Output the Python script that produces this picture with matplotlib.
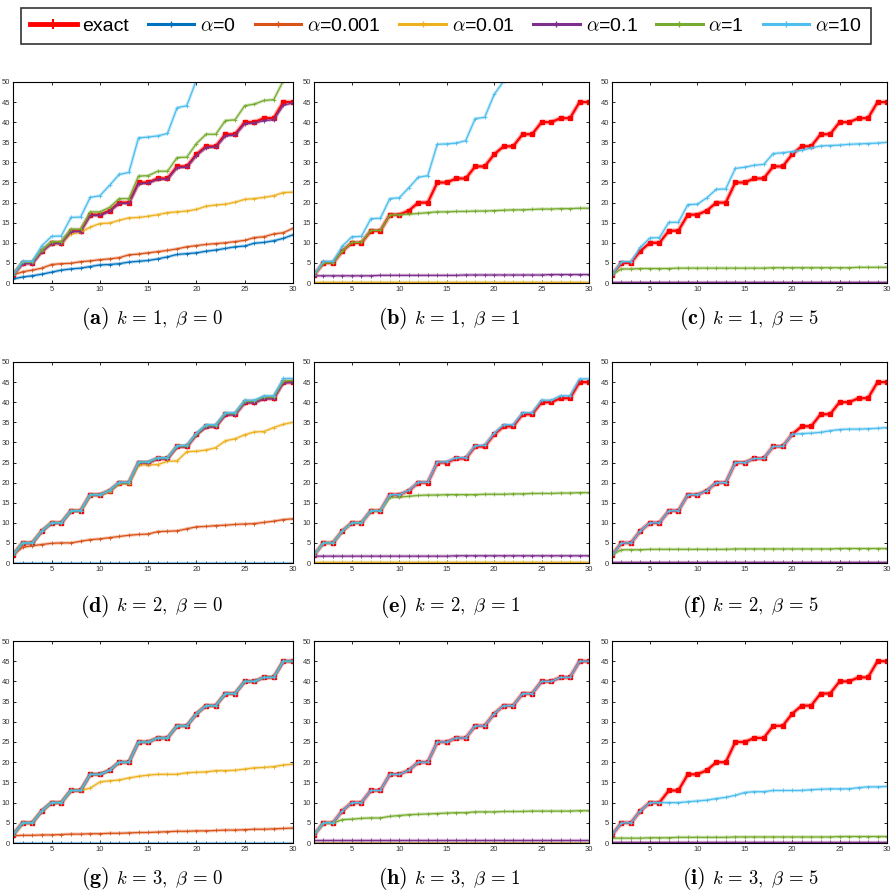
import numpy as np
import matplotlib
matplotlib.use("Agg")
import matplotlib.pyplot as plt
from matplotlib.lines import Line2D

plt.rcParams["font.family"] = ["Liberation Sans", "DejaVu Sans"]
plt.rcParams["mathtext.fontset"] = "cm"

x = list(range(1, 31))
exact = [2, 5, 5, 8, 10, 10, 13, 13, 17, 17, 18, 20, 20, 25, 25, 26, 26, 29, 29, 32,
         34, 34, 37, 37, 40, 40, 41, 41, 45, 45]
zeros = [0.0] * 30

labels = ["exact", r"$\alpha$=0", r"$\alpha$=0.001", r"$\alpha$=0.01", r"$\alpha$=0.1", r"$\alpha$=1", r"$\alpha$=10"]
colors = ["#ff0000", "#0072bd", "#d95319", "#edb120", "#7e2f8e", "#77ac30", "#4dbeee"]
tags = ["a", "b", "c", "d", "e", "f", "g", "h", "i"]
conds = [r"$k\,=\,1,\ \beta\,=\,0$", r"$k\,=\,1,\ \beta\,=\,1$", r"$k\,=\,1,\ \beta\,=\,5$",
         r"$k\,=\,2,\ \beta\,=\,0$", r"$k\,=\,2,\ \beta\,=\,1$", r"$k\,=\,2,\ \beta\,=\,5$",
         r"$k\,=\,3,\ \beta\,=\,0$", r"$k\,=\,3,\ \beta\,=\,1$", r"$k\,=\,3,\ \beta\,=\,5$"]

# (a) k=1, beta=0
a_p0 = [1.0, 1.5, 1.8, 2.2, 2.7, 3.2, 3.5, 3.7, 4.1, 4.5, 4.6, 4.8, 5.2, 5.4, 5.6, 6.0, 6.5, 7.1, 7.3, 7.5,
        7.9, 8.2, 8.6, 9.0, 9.2, 9.9, 10.1, 10.5, 11.1, 12.0]
a_p001 = [2.0, 2.8, 3.2, 3.7, 4.6, 4.8, 4.9, 5.3, 5.5, 5.8, 6.0, 6.3, 7.0, 7.2, 7.5, 7.8, 8.1, 8.5, 9.0, 9.3,
          9.6, 9.8, 10.0, 10.3, 10.6, 11.3, 11.5, 12.2, 12.5, 13.6]
a_p01 = [2.0, 5.0, 5.0, 8.0, 9.8, 9.8, 12.2, 12.6, 13.9, 14.8, 14.9, 15.6, 16.2, 16.3, 16.6, 17.0, 17.5, 17.7, 17.9, 18.3,
         19.1, 19.4, 19.6, 20.1, 20.8, 21.0, 21.3, 21.7, 22.5, 22.6]
a_p1 = [1.9, 4.8, 4.8, 7.8, 9.8, 9.8, 12.8, 12.8, 16.8, 16.8, 17.8, 19.8, 19.8, 24.7, 24.8, 25.8, 25.8, 28.7, 28.8, 31.7,
        33.7, 33.8, 36.6, 36.8, 39.6, 39.8, 40.4, 40.6, 44.2, 44.8]
a_1 = [2.0, 5.3, 5.3, 8.3, 10.3, 10.3, 13.4, 13.4, 17.7, 17.7, 18.8, 21.0, 21.0, 26.6, 26.7, 27.8, 27.8, 31.2, 31.3, 34.7,
       37.0, 37.0, 40.4, 40.6, 44.1, 44.5, 45.4, 45.6, 50.3, 52.0]
a_10 = [2.0, 5.4, 5.4, 9.3, 11.6, 11.7, 16.3, 16.4, 21.3, 21.7, 24.3, 27.0, 27.5, 36.1, 36.3, 36.6, 37.2, 43.6, 44.1, 50.5,
        54.0, 55.0, 60.0, 61.0, 66.0, 67.0, 69.0, 70.0, 76.0, 77.0]

# (b) k=1, beta=1
b_p0 = zeros
b_p001 = [0.1] * 30
b_p01 = [0.2] * 30
b_p1 = [1.8, 1.8, 1.8, 1.8, 1.8, 1.8, 1.8, 1.9, 1.9, 1.9, 1.9, 1.9, 1.9, 1.9, 1.9, 1.9, 2.0, 2.0, 2.0, 2.0,
        2.0, 2.0, 2.0, 2.0, 2.0, 2.1, 2.1, 2.1, 2.1, 2.1]
b_1 = [2.0, 5.0, 5.0, 8.0, 10.1, 10.1, 13.1, 13.1, 16.9, 17.0, 17.1, 17.3, 17.5, 17.7, 17.7, 17.8, 17.8, 17.9, 17.9, 18.0,
       18.1, 18.2, 18.2, 18.3, 18.4, 18.4, 18.5, 18.5, 18.6, 18.6]
b_10 = [2.0, 5.4, 5.4, 9.2, 11.5, 11.6, 16.0, 16.1, 21.0, 21.2, 23.7, 26.3, 26.7, 34.5, 34.6, 34.8, 35.4, 40.9, 41.2, 46.9,
        50.2, 51.0, 55.0, 56.0, 60.0, 61.0, 62.0, 63.0, 68.0, 69.0]

# (c) k=1, beta=5
c_p0 = zeros
c_p001 = [0.05] * 30
c_p01 = [0.1] * 30
c_p1 = [0.3] * 30
c_1 = [2.0, 3.5, 3.5, 3.6, 3.6, 3.6, 3.6, 3.7, 3.7, 3.7, 3.7, 3.7, 3.7, 3.7, 3.7, 3.7, 3.7, 3.8, 3.8, 3.8,
       3.8, 3.8, 3.8, 3.8, 3.8, 3.8, 3.9, 3.9, 3.9, 3.9]
c_10 = [2.0, 5.3, 5.3, 8.9, 11.2, 11.3, 15.1, 15.1, 19.5, 19.6, 21.2, 23.3, 23.4, 28.5, 28.8, 29.3, 29.5, 32.2, 32.4, 32.7,
        33.0, 33.6, 34.1, 34.2, 34.3, 34.5, 34.6, 34.7, 34.8, 35.0]

# (d) k=2, beta=0
d_p0 = zeros
d_p001 = [2.0, 3.9, 4.3, 4.6, 4.9, 5.0, 5.0, 5.4, 5.8, 6.0, 6.3, 6.6, 6.9, 7.1, 7.2, 7.8, 7.9, 8.0, 8.5, 9.0,
          9.1, 9.3, 9.4, 9.6, 9.7, 9.8, 10.1, 10.4, 10.8, 11.0]
d_p01 = [2.0, 5.0, 5.0, 8.0, 10.0, 10.0, 13.0, 12.9, 16.8, 16.8, 17.7, 19.7, 19.7, 24.4, 24.4, 24.5, 25.3, 25.4, 27.7, 27.8,
         28.1, 28.7, 30.4, 30.9, 31.9, 32.6, 32.7, 33.7, 34.5, 35.0]
d_p1 = [2.0, 4.9, 4.9, 7.9, 9.9, 9.9, 12.9, 12.9, 16.9, 16.9, 17.9, 19.9, 19.9, 24.9, 24.9, 25.9, 25.9, 28.9, 28.9, 31.9,
        33.8, 33.9, 36.8, 36.9, 39.8, 39.9, 40.8, 40.9, 44.8, 44.9]
d_1 = [2.0, 5.0, 5.0, 8.0, 10.0, 10.0, 13.0, 13.0, 17.0, 17.0, 18.0, 20.0, 20.0, 25.1, 25.1, 26.1, 26.1, 29.1, 29.1, 32.1,
       34.2, 34.2, 37.2, 37.2, 40.2, 40.3, 41.3, 41.3, 45.3, 45.4]
d_10 = [2.0, 5.0, 5.0, 8.0, 10.0, 10.0, 13.0, 13.0, 17.0, 17.0, 18.1, 20.1, 20.1, 25.1, 25.2, 26.2, 26.2, 29.2, 29.3, 32.3,
        34.4, 34.4, 37.4, 37.4, 40.5, 40.5, 41.6, 41.6, 45.9, 45.9]

# (e) k=2, beta=1
e_p0 = zeros
e_p001 = [0.1] * 30
e_p01 = [0.15] * 30
e_p1 = [1.7, 1.7, 1.7, 1.7, 1.7, 1.7, 1.7, 1.7, 1.7, 1.7, 1.7, 1.7, 1.7, 1.7, 1.7, 1.8, 1.8, 1.8, 1.8, 1.8,
        1.8, 1.8, 1.8, 1.8, 1.8, 1.8, 1.8, 1.8, 1.8, 1.8]
e_1 = [2.0, 5.0, 5.0, 8.0, 10.0, 10.0, 13.0, 13.0, 16.3, 16.4, 16.6, 16.8, 16.9, 16.9, 17.0, 17.0, 17.0, 17.0, 17.1, 17.1,
       17.1, 17.2, 17.2, 17.3, 17.3, 17.3, 17.4, 17.4, 17.5, 17.5]
e_10 = [2.0, 5.0, 5.0, 8.0, 10.0, 10.0, 13.0, 13.0, 17.0, 17.0, 18.1, 20.1, 20.1, 25.1, 25.2, 26.2, 26.2, 29.2, 29.3, 32.3,
        34.4, 34.4, 37.4, 37.4, 40.5, 40.5, 41.6, 41.6, 45.8, 45.8]

# (f) k=2, beta=5
f_p0 = zeros
f_p001 = [0.05] * 30
f_p01 = [0.1] * 30
f_p1 = [0.3] * 30
f_1 = [2.0, 3.3, 3.3, 3.3, 3.4, 3.4, 3.4, 3.4, 3.4, 3.4, 3.4, 3.4, 3.4, 3.5, 3.5, 3.5, 3.5, 3.5, 3.5, 3.5,
       3.5, 3.5, 3.5, 3.5, 3.6, 3.6, 3.6, 3.6, 3.6, 3.6]
f_10 = [2.0, 5.0, 5.0, 8.0, 10.0, 10.0, 13.0, 13.0, 17.0, 17.0, 18.0, 20.0, 20.0, 25.0, 25.0, 26.0, 26.0, 29.0, 29.0, 32.0,
        32.2, 32.3, 32.5, 32.9, 33.2, 33.3, 33.3, 33.4, 33.5, 33.7]

# (g) k=3, beta=0
g_p0 = zeros
g_p001 = [1.8, 1.9, 1.9, 2.0, 2.0, 2.1, 2.2, 2.2, 2.3, 2.3, 2.4, 2.4, 2.5, 2.6, 2.6, 2.7, 2.8, 2.9, 2.9, 3.0,
          3.0, 3.1, 3.2, 3.2, 3.3, 3.4, 3.4, 3.5, 3.6, 3.7]
g_p01 = [2.0, 5.0, 5.0, 8.0, 10.0, 10.0, 13.0, 13.0, 13.6, 15.1, 15.4, 15.6, 16.1, 16.5, 16.8, 17.0, 17.0, 17.0, 17.4, 17.5,
         17.6, 17.9, 17.9, 18.0, 18.3, 18.6, 18.7, 18.9, 19.3, 19.5]
g_p1 = exact
g_1 = exact
g_10 = exact

# (h) k=3, beta=1
h_p0 = zeros
h_p001 = [0.05] * 30
h_p01 = [0.1] * 30
h_p1 = [0.8] * 30
h_1 = [2.0, 4.9, 4.9, 5.8, 5.9, 6.1, 6.2, 6.2, 6.6, 6.8, 7.0, 7.1, 7.2, 7.3, 7.4, 7.5, 7.5, 7.7, 7.7, 7.7,
       7.8, 7.8, 7.8, 7.9, 7.9, 7.9, 7.9, 7.9, 8.0, 8.0]
h_10 = exact

# (i) k=3, beta=5
i_p0 = zeros
i_p001 = [0.05] * 30
i_p01 = [0.1] * 30
i_p1 = [0.2] * 30
i_1 = [1.2, 1.2, 1.2, 1.2, 1.3, 1.3, 1.3, 1.4, 1.4, 1.4, 1.4, 1.4, 1.4, 1.5, 1.5, 1.5, 1.5, 1.5, 1.5, 1.5,
       1.5, 1.5, 1.5, 1.5, 1.6, 1.6, 1.6, 1.6, 1.6, 1.6]
i_10 = [2.0, 5.0, 5.0, 8.0, 10.0, 10.0, 10.0, 10.0, 10.2, 10.4, 10.6, 11.0, 11.3, 11.8, 12.5, 12.7, 12.7, 13.0, 13.0, 13.0,
        13.0, 13.2, 13.3, 13.4, 13.4, 13.4, 13.7, 13.9, 13.9, 14.0]

panels = [
    [a_p0, a_p001, a_p01, a_p1, a_1, a_10],
    [b_p0, b_p001, b_p01, b_p1, b_1, b_10],
    [c_p0, c_p001, c_p01, c_p1, c_1, c_10],
    [d_p0, d_p001, d_p01, d_p1, d_1, d_10],
    [e_p0, e_p001, e_p01, e_p1, e_1, e_10],
    [f_p0, f_p001, f_p01, f_p1, f_1, f_10],
    [g_p0, g_p001, g_p01, g_p1, g_1, g_10],
    [h_p0, h_p001, h_p01, h_p1, h_1, h_10],
    [i_p0, i_p001, i_p01, i_p1, i_1, i_10],
]

W, H = 891, 892
fig = plt.figure(figsize=(W / 100, H / 100), dpi=100)

col_px = [(13, 280), (314, 275), (612, 275)]
row_px = [(82, 283), (362, 563), (641, 843)]
cap_y = [319, 606, 879]

for idx, series in enumerate(panels):
    r, c = idx // 3, idx % 3
    left, width = col_px[c]
    top, bottom = row_px[r]
    ax = fig.add_axes([left / W, 1 - bottom / H, width / W, (bottom - top) / H])
    # exact first, then the alphas over it
    ax.plot(x, exact, color=colors[0], lw=3.5, alpha=0.3, solid_capstyle="round")
    ax.plot(x, exact, color=colors[0], lw=1.6, marker="s", ms=3.2, mec=colors[0], mfc=colors[0])
    for s, col in zip(series, colors[1:]):
        ax.plot(x, s, color=col, lw=2.4, alpha=0.3)
        ax.plot(x, s, color=col, lw=0.9, marker="+", ms=2.5, mew=0.6)
    ax.set_xlim(1, 30)
    ax.set_ylim(0, 50)
    ax.set_xticks(range(5, 31, 5))
    ax.set_yticks(range(0, 51, 5))
    ax.tick_params(direction="in", length=2.5, width=0.6, labelsize=5.5, top=True, right=True, pad=2,
                   labelcolor="#333333")
    for sp in ax.spines.values():
        sp.set_linewidth(0.8)
    cx = left + width / 2
    fig.text((cx - 44) / W, 1 - cap_y[r] / H, r"$\mathbf{(" + tags[idx] + ")}$", ha="right", va="center",
             fontsize=16)
    fig.text((cx - 37) / W, 1 - cap_y[r] / H, conds[idx], ha="left", va="center", fontsize=13.5)

handles = [Line2D([], [], color=colors[0], lw=3.5, marker="+", ms=7, mew=1.5)]
handles += [Line2D([], [], color=col, lw=2.2, marker="+", ms=5, mew=1) for col in colors[1:]]
leg = fig.legend(handles, labels, loc="center", bbox_to_anchor=(446 / W, 1 - 26 / H), ncol=7,
                 fontsize=14, frameon=True, fancybox=False, edgecolor="black", handlelength=2.4,
                 handletextpad=0.3, columnspacing=0.95, borderpad=0.45)
leg.get_frame().set_linewidth(1.2)

fig.savefig("out.png", dpi=100)
